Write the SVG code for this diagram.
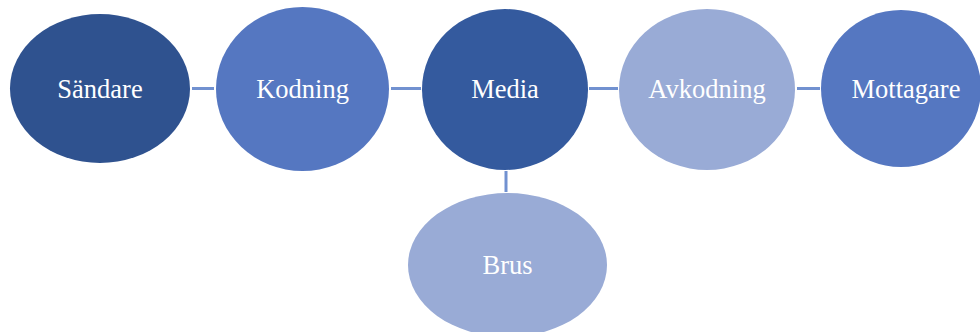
<svg xmlns="http://www.w3.org/2000/svg" width="980" height="332" viewBox="0 0 980 332">
<style>
.lbl{font-family:"Liberation Serif","Times New Roman",serif;font-size:26.5px;fill:#ffffff;text-anchor:middle}
.conn{stroke:#7191d0;stroke-width:3;fill:none}
</style>
<rect width="980" height="332" fill="#ffffff"/>
<g id="connectors">
<line class="conn" x1="192" y1="88.5" x2="214" y2="88.5"/>
<line class="conn" x1="391" y1="88.5" x2="421" y2="88.5"/>
<line class="conn" x1="589" y1="88.5" x2="618" y2="88.5"/>
<line class="conn" x1="797" y1="88.5" x2="820" y2="88.5"/>
<line class="conn" x1="506" y1="171" x2="506" y2="192"/>
</g>
<g id="sandare">
<ellipse cx="100" cy="88.5" rx="90" ry="74.5" fill="#2f528f"/>
<text class="lbl" x="100" y="97.5">Sändare</text>
</g>
<g id="kodning">
<ellipse cx="302.5" cy="89" rx="86.5" ry="82" fill="#5577c1"/>
<text class="lbl" x="302.5" y="97.5">Kodning</text>
</g>
<g id="media">
<ellipse cx="505" cy="89.5" rx="83" ry="80.5" fill="#345a9e"/>
<text class="lbl" x="505" y="97.5">Media</text>
</g>
<g id="avkodning">
<ellipse cx="707" cy="89.5" rx="88" ry="80.5" fill="#99abd6"/>
<text class="lbl" x="707" y="97.5">Avkodning</text>
</g>
<g id="mottagare">
<ellipse cx="901" cy="88.5" rx="80" ry="78.5" fill="#5577c1"/>
<text class="lbl" x="906" y="97.5">Mottagare</text>
</g>
<g id="brus">
<ellipse cx="507.5" cy="265" rx="99.5" ry="72" fill="#99abd6"/>
<text class="lbl" x="507.5" y="274">Brus</text>
</g>
</svg>
